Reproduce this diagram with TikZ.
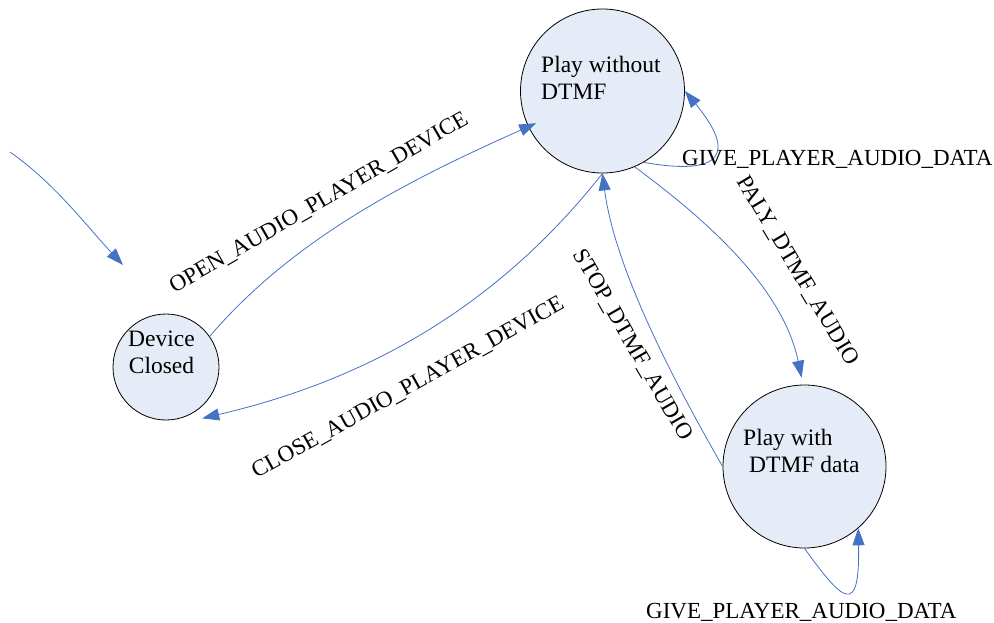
\documentclass[tikz,border=0pt]{standalone}
\usepackage{fontspec}
\setmainfont{Liberation Serif}
\usetikzlibrary{arrows.meta}
\definecolor{edgeblue}{HTML}{4472C4}
\definecolor{statefill}{HTML}{E6ECF7}
\begin{document}
\begin{tikzpicture}[x=1pt,y=-1pt,
  state/.style={circle,draw=black,line width=0.8pt,fill=statefill,inner sep=0pt},
  statetext/.style={font=\fontsize{23.5}{26.5}\selectfont,inner sep=0pt},
  edgelabel/.style={font=\fontsize{23}{26}\selectfont,inner sep=0pt},
  trans/.style={draw=edgeblue,line width=0.8pt,-{Triangle[length=17pt,width=12pt]}}]
\useasboundingbox (0,0) rectangle (994,622);

% states
\node[state,minimum size=106pt] (dc) at (166,367) {};
\node[state,minimum size=164pt] (pw) at (602.5,91) {};
\node[state,minimum size=163pt] (pd) at (804.5,466.5) {};

% state names
\node[statetext,anchor=north,align=center] (dc-label) at (161.5,331) {Device\\Closed};
\node[statetext,anchor=north west,align=left] (pw-label) at (541,56) {Play without\\DTMF};
\node[statetext,anchor=north west,align=left] (pd-label) at (743,429) {Play with\\\hspace*{6pt}DTMF data};

% initial transition
\coordinate (init-start) at (10,152);
\coordinate (init-end) at (123,265);
\draw[trans] (init-start) .. controls (55,183.6) and (85.5,224.8) .. (init-end);

% transitions between states
\draw[trans] (dc.35) .. controls (296,235) and (418,176) .. ([shift={(7.7,-3.9)}]pw.206);
\draw[trans] (pw.270) .. controls (479.4,329.8) and (332.5,387.8) .. ([shift={(5.6,7.6)}]dc.-55);
\draw[trans] (pw.-67) .. controls (699,214.5) and (782,283.8) .. ([shift={(0,-7)}]pd.92);
\draw[trans] (pd.180) .. controls (664.6,365.6) and (613.7,261.4) .. (pw.270);

% self loops
\draw[trans] (pw.-60) .. controls (723.8,176.6) and (736,152.8) .. (pw.0);
\draw[trans] (pd.270) .. controls (842.2,600.6) and (860,619) .. (pd.-49);

% transition labels
\node[edgelabel,rotate=30] (open-label) at (319,203) {OPEN\_AUDIO\_PLAYER\_DEVICE};
\node[edgelabel,rotate=29] (close-label) at (408,388) {CLOSE\_AUDIO\_PLAYER\_DEVICE};
\node[edgelabel,rotate=-59] (paly-label) at (797.5,271) {PALY\_DTMF\_AUDIO};
\node[edgelabel,rotate=-60] (stop-label) at (632.5,345) {STOP\_DTMF\_AUDIO};
\node[edgelabel,anchor=base west] (give-top) at (682,165) {GIVE\_PLAYER\_AUDIO\_DATA};
\node[edgelabel,anchor=base west] (give-bottom) at (646,618.5) {GIVE\_PLAYER\_AUDIO\_DATA};
\end{tikzpicture}
\end{document}
